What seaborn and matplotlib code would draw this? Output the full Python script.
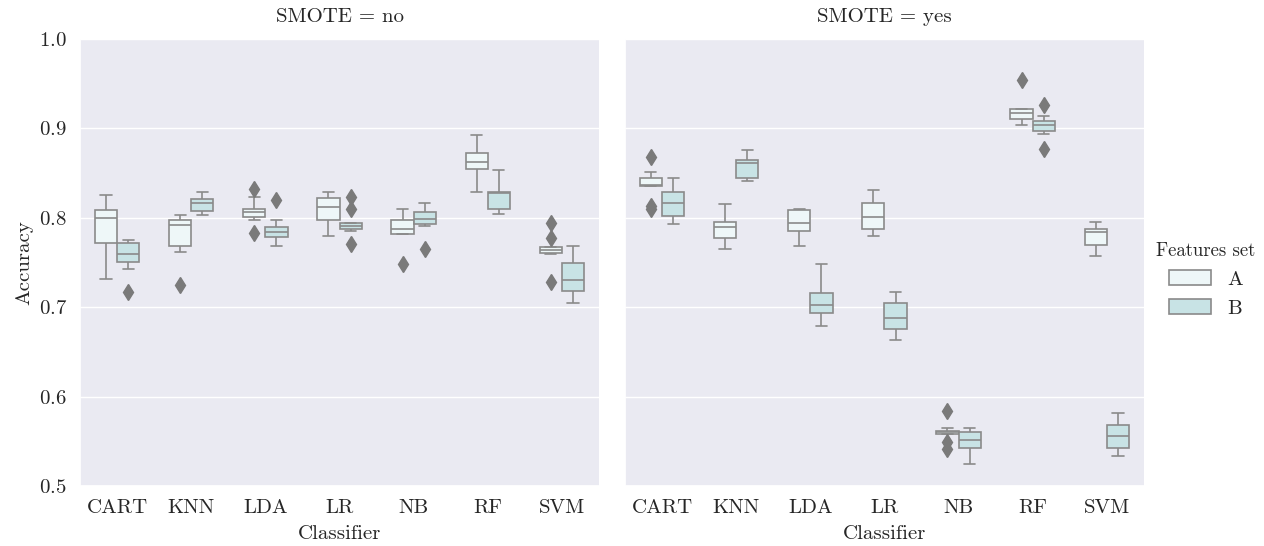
import pandas as pd
import seaborn as sns
import matplotlib.pyplot as plt

classifiers = ["CART", "KNN", "LDA", "LR", "NB", "RF", "SVM"]
smote_levels = ["no", "yes"]
feature_sets = ["A", "B"]

# Accuracy per fold, SMOTE = no
no_A = {
    "CART": [.732, .760, .772, .772, .800, .800, .809, .809, .818, .826],
    "KNN":  [.725, .762, .769, .769, .792, .792, .797, .797, .800, .803],
    "LDA":  [.783, .798, .801, .801, .806, .806, .810, .810, .823, .832],
    "LR":   [.780, .790, .798, .798, .812, .812, .822, .822, .826, .829],
    "NB":   [.748, .782, .782, .782, .788, .788, .797, .797, .803, .810],
    "RF":   [.829, .845, .855, .855, .862, .862, .873, .873, .883, .893],
    "SVM":  [.728, .759, .761, .761, .764, .764, .767, .767, .777, .794],
}
no_B = {
    "CART": [.717, .743, .751, .751, .760, .760, .772, .772, .774, .775],
    "KNN":  [.803, .806, .808, .808, .816, .816, .821, .821, .825, .829],
    "LDA":  [.768, .775, .779, .779, .784, .784, .790, .790, .798, .820],
    "LR":   [.771, .785, .788, .788, .791, .791, .794, .794, .810, .823],
    "NB":   [.765, .791, .793, .793, .799, .799, .806, .806, .811, .816],
    "RF":   [.804, .807, .810, .810, .828, .828, .829, .829, .840, .854],
    "SVM":  [.705, .712, .718, .718, .730, .730, .749, .749, .760, .769],
}
# SMOTE = yes
yes_A = {
    "CART": [.810, .813, .835, .835, .837, .837, .844, .844, .851, .868],
    "KNN":  [.765, .771, .777, .777, .790, .790, .795, .795, .805, .815],
    "LDA":  [.768, .777, .785, .785, .794, .794, .809, .809, .809, .810],
    "LR":   [.780, .784, .788, .788, .801, .801, .817, .817, .824, .831],
    "NB":   [.541, .549, .558, .558, .560, .560, .562, .562, .565, .584],
    "RF":   [.904, .907, .910, .910, .917, .917, .922, .922, .922, .954],
    "SVM":  [.757, .763, .770, .770, .784, .784, .788, .788, .792, .795],
}
yes_B = {
    "CART": [.793, .798, .802, .802, .817, .817, .829, .829, .838, .845],
    "KNN":  [.841, .843, .844, .844, .861, .861, .865, .865, .870, .876],
    "LDA":  [.679, .686, .693, .693, .702, .702, .716, .716, .730, .748],
    "LR":   [.663, .670, .676, .676, .688, .688, .705, .705, .711, .717],
    "NB":   [.525, .535, .543, .543, .551, .551, .560, .560, .563, .565],
    "RF":   [.877, .894, .897, .897, .904, .904, .908, .908, .914, .926],
    "SVM":  [.533, .538, .543, .543, .556, .556, .568, .568, .575, .582],
}

groups = {("no", "A"): no_A, ("no", "B"): no_B,
          ("yes", "A"): yes_A, ("yes", "B"): yes_B}
rows = []
for (smote, feat), table in groups.items():
    for clf in classifiers:
        for v in table[clf]:
            rows.append({"SMOTE": smote, "Features set": feat,
                         "Classifier": clf, "Accuracy": v})
df = pd.DataFrame(rows)

sns.set_theme(style="darkgrid")
plt.rcParams["font.family"] = ["cmr10", "DejaVu Serif"]
plt.rcParams["axes.formatter.use_mathtext"] = True
plt.rcParams["font.size"] = 15

palette = {"A": "#eef7f8", "B": "#c8e3e5"}

g = sns.catplot(
    data=df, x="Classifier", y="Accuracy", hue="Features set",
    col="SMOTE", col_order=smote_levels, order=classifiers,
    hue_order=feature_sets, kind="box", palette=palette, saturation=1,
    width=0.6, gap=0, linecolor="#8a8a8a", linewidth=1.2,
    flierprops=dict(marker="d", markerfacecolor="#7a7a7a",
                    markeredgecolor="#7a7a7a", markersize=8),
    height=4.5, aspect=1.2,
)
g.figure.set_size_inches(12.64, 5.46)
g.set(ylim=(0.5, 1.0))
g.set_titles("{col_var} = {col_name}", size=15, pad=12)
for ax in g.axes.flat:
    ax.tick_params(labelsize=15)
    ax.xaxis.label.set_size(15)
    ax.yaxis.label.set_size(15)
    ax.xaxis.labelpad = 6
g.figure.subplots_adjust(left=0.0633, right=0.905, top=0.9286,
                         bottom=0.1099, wspace=0.05)
sns.move_legend(g, "center left", bbox_to_anchor=(0.9, 0.487),
                frameon=False, fontsize=15, title_fontsize=13.5)
g.figure.savefig("out.png", dpi=100)
